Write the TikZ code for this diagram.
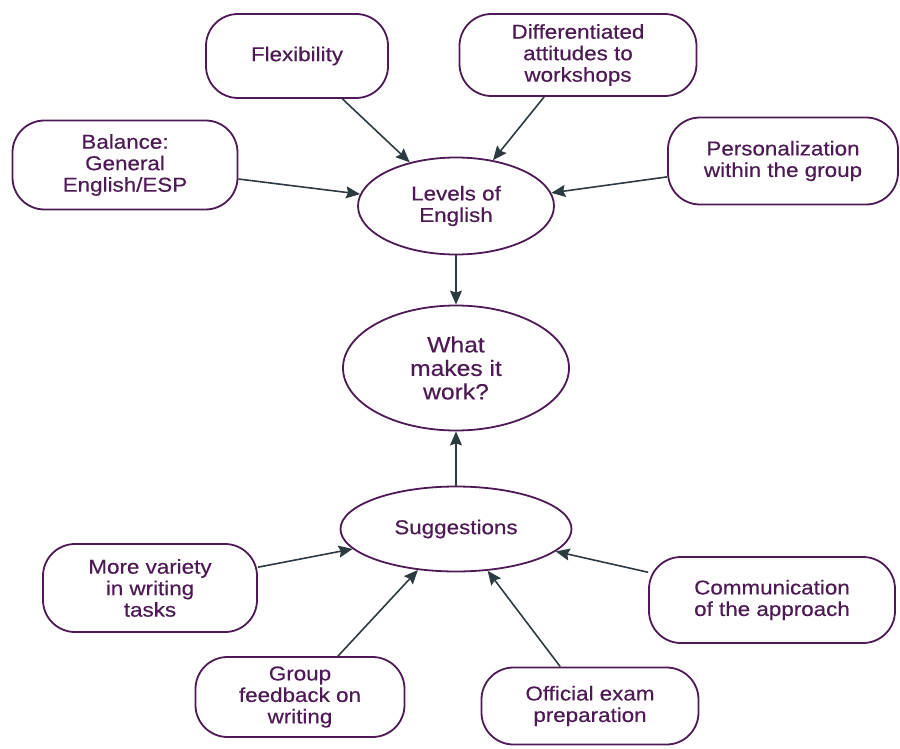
\documentclass[tikz,border=0pt]{standalone}
\usepackage{fontspec}
\setmainfont{Liberation Sans}[FakeStretch=1.12,FakeBold=0.4]
\usetikzlibrary{arrows.meta,shapes.geometric}
\definecolor{purp}{HTML}{4E1A55}
\definecolor{arr}{HTML}{2C3B42}
\tikzset{
  txt/.style={text=purp,align=center,font=\fontsize{20}{21.5}\selectfont},
  rbox/.style={txt,draw=purp,line width=1.8pt,rounded corners=32pt,fill=white,inner sep=0pt},
  ell/.style={txt,draw=purp,line width=1.8pt,ellipse,fill=white,inner sep=0pt},
  conn/.style={draw=arr,line width=1.6pt,-{Stealth[length=14pt,width=12pt,inset=2pt]}}
}
\begin{document}
\begin{tikzpicture}[x=1pt,y=-1pt]
\useasboundingbox (0,0) rectangle (900,749);
\node[rbox,minimum width=182pt,minimum height=84pt] (flex) at (297,56) {Flexibility};
\node[rbox,minimum width=237pt,minimum height=82pt] (diff) at (578,55) {Differentiated\\attitudes to\\workshops};
\node[rbox,minimum width=225pt,minimum height=89pt] (bal) at (125,165) {Balance:\\General\\English/ESP};
\node[rbox,minimum width=230pt,minimum height=87pt] (pers) at (783,161) {Personalization\\within the group};
\node[ell,minimum width=196pt,minimum height=97pt] (lev) at (456,206) {Levels of\\English};
\node[ell,minimum width=226pt,minimum height=125pt,font=\fontsize{22}{23.5}\selectfont] (what) at (456,368) {What\\makes it\\work?};
\node[ell,minimum width=231pt,minimum height=85pt] (sug) at (456,529) {Suggestions};
\node[rbox,minimum width=214pt,minimum height=88pt] (var) at (150,588) {More variety\\in writing\\tasks};
\node[rbox,minimum width=246pt,minimum height=86pt] (comm) at (772,600) {Communication\\of the approach};
\node[rbox,minimum width=209pt,minimum height=80pt] (grp) at (300,697) {Group\\feedback on\\writing};
\node[rbox,minimum width=217pt,minimum height=77pt] (off) at (590,706) {Official exam\\preparation};

\draw[conn] (flex) -- (lev);
\draw[conn] (diff) -- (lev);
\draw[conn] (bal) -- (lev);
\draw[conn] (pers) -- (lev);
\draw[conn] (lev.south) -- (what.north);
\draw[conn] (sug.north) -- (what.south);
\draw[conn] (var) -- (sug);
\draw[conn] (comm) -- (sug);
\draw[conn] (grp) -- (sug);
\draw[conn] (off) -- (sug);
\end{tikzpicture}
\end{document}
